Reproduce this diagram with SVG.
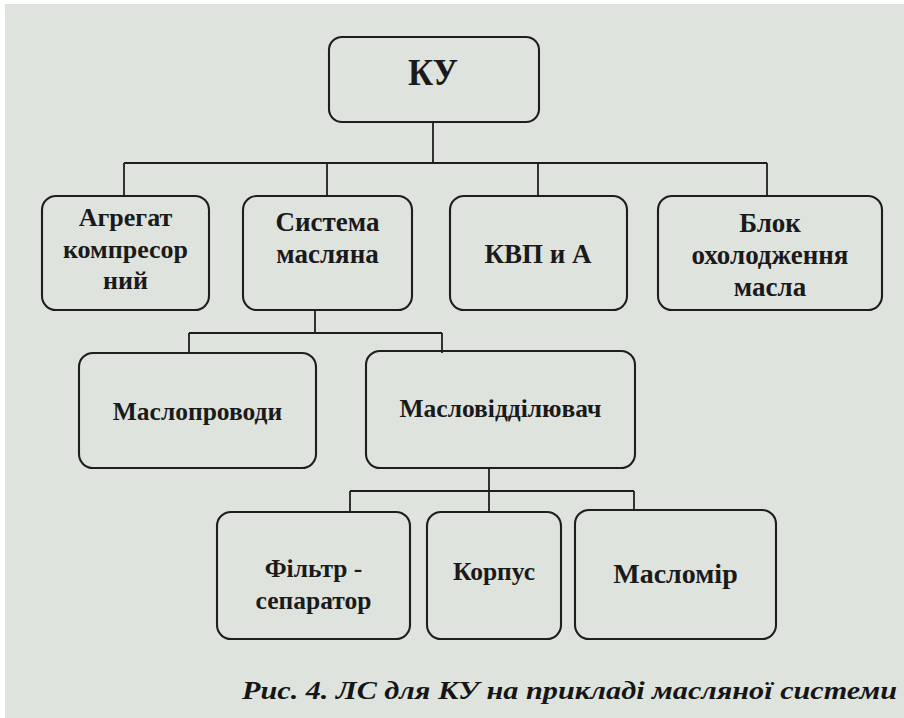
<svg xmlns="http://www.w3.org/2000/svg" width="904" height="718" viewBox="0 0 904 718">
  <style>
    .node rect { fill: none; stroke: #1e1e1e; stroke-width: 2.1; }
    .node text { font-family: "Liberation Serif", "Times New Roman", serif; font-weight: bold; fill: #1a1a1a; text-anchor: middle; }
    #connectors path { fill: none; stroke: #1e1e1e; stroke-width: 1.8; }
    .caption { font-family: "Liberation Serif", "DejaVu Serif", serif; font-weight: bold; font-style: italic; fill: #151515; }
  </style>

  <!-- page -->
  <rect x="0" y="0" width="904" height="718" fill="#ffffff"/>
  <rect x="5" y="4" width="899" height="714" fill="#dfe3de"/>

  <!-- tree connectors -->
  <g id="connectors">
    <path d="M433 122 V163 M124 163 H767 M124 163 V196 M327 163 V196 M538 163 V196 M767 163 V196"/>
    <path d="M315 310 V333 M189 333 H442 M189 333 V353 M442 333 V353"/>
    <path d="M489 468 V491 M350 491 H634 M350 491 V512 M489 491 V512 M634 491 V510"/>
  </g>

  <g id="ku" class="node">
    <rect x="329" y="37" width="210" height="85" rx="13"/>
    <text x="433" y="85" font-size="38" textLength="50" lengthAdjust="spacingAndGlyphs">КУ</text>
  </g>

  <g id="aggregate" class="node">
    <rect x="42" y="196" width="167" height="114" rx="14"/>
    <text x="125.5" font-size="26"><tspan x="125.5" y="226">Агрегат</tspan><tspan x="125.5" y="258">компресор</tspan><tspan x="125.5" y="289">ний</tspan></text>
  </g>

  <g id="oil-system" class="node">
    <rect x="243" y="196" width="169" height="114" rx="14"/>
    <text x="327.5" font-size="27"><tspan x="327.5" y="231">Система</tspan><tspan x="327.5" y="263">масляна</tspan></text>
  </g>

  <g id="kvp" class="node">
    <rect x="450" y="196" width="177" height="114" rx="14"/>
    <text x="538" y="263" font-size="27">КВП и А</text>
  </g>

  <g id="cooling" class="node">
    <rect x="658" y="196" width="224" height="114" rx="14"/>
    <text x="770" font-size="27"><tspan x="770" y="232">Блок</tspan><tspan x="770" y="264">охолодження</tspan><tspan x="770" y="296">масла</tspan></text>
  </g>

  <g id="oil-lines" class="node">
    <rect x="79" y="353" width="237" height="115" rx="14"/>
    <text x="197.5" y="420" font-size="25.5">Маслопроводи</text>
  </g>

  <g id="oil-separator" class="node">
    <rect x="366" y="351" width="269" height="117" rx="14"/>
    <text x="500.5" y="417" font-size="25.5">Масловідділювач</text>
  </g>

  <g id="filter" class="node">
    <rect x="217" y="512" width="193" height="127" rx="14"/>
    <text x="313.5" font-size="25.5"><tspan x="313.5" y="577">Фільтр -</tspan><tspan x="313.5" y="609">сепаратор</tspan></text>
  </g>

  <g id="body" class="node">
    <rect x="427" y="512" width="134" height="127" rx="14"/>
    <text x="494" y="580" font-size="25.5">Корпус</text>
  </g>

  <g id="oil-gauge" class="node">
    <rect x="575" y="510" width="201" height="129" rx="14"/>
    <text x="675.5" y="583" font-size="28">Масломір</text>
  </g>

  <text class="caption" x="897" y="699" font-size="25" text-anchor="end" textLength="655" lengthAdjust="spacingAndGlyphs">Рис. 4. ЛС для КУ на прикладі масляної системи</text>
</svg>
